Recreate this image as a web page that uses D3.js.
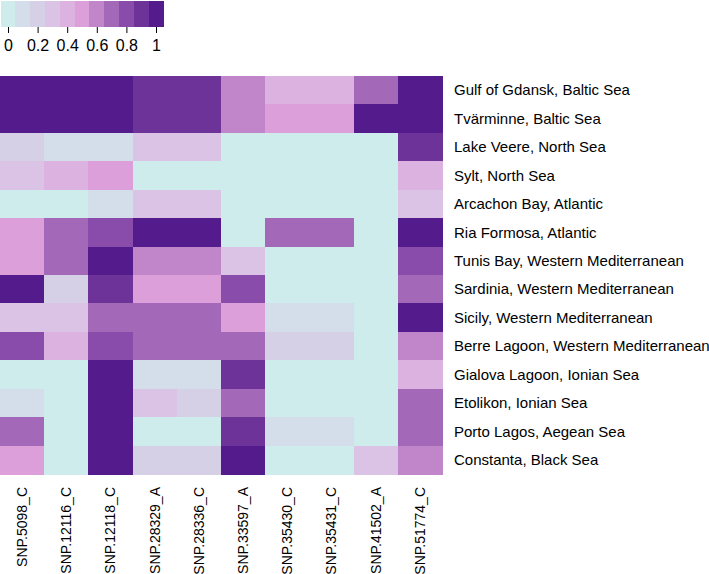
<!DOCTYPE html>
<html><head><meta charset="utf-8">
<script src="https://cdn.jsdelivr.net/npm/d3@7"></script>
<style>body{margin:0;background:#fff}svg{display:block}text{font-family:"Liberation Sans",Arial,sans-serif;fill:#000}</style>
</head><body><svg id="c" width="709" height="574"></svg>
<script>
const sites = ["Gulf of Gdansk, Baltic Sea","Tvärminne, Baltic Sea","Lake Veere, North Sea","Sylt, North Sea","Arcachon Bay, Atlantic","Ria Formosa, Atlantic","Tunis Bay, Western Mediterranean","Sardinia, Western Mediterranean","Sicily, Western Mediterranean","Berre Lagoon, Western Mediterranean","Gialova Lagoon, Ionian Sea","Etolikon, Ionian Sea","Porto Lagos, Aegean Sea","Constanta, Black Sea"];
const snps = ["SNP.5098_C","SNP.12116_C","SNP.12118_C","SNP.28329_A","SNP.28336_C","SNP.33597_A","SNP.35430_C","SNP.35431_C","SNP.41502_A","SNP.51774_C"];
const values = [
 [1.0,1.0,1.0,0.9,0.9,0.6,0.4,0.4,0.7,1.0],
 [1.0,1.0,1.0,0.9,0.9,0.6,0.5,0.5,1.0,1.0],
 [0.2,0.1,0.1,0.3,0.3,0.0,0.0,0.0,0.0,0.9],
 [0.3,0.4,0.5,0.0,0.0,0.0,0.0,0.0,0.0,0.4],
 [0.0,0.0,0.1,0.3,0.3,0.0,0.0,0.0,0.0,0.3],
 [0.5,0.7,0.8,1.0,1.0,0.0,0.7,0.7,0.0,1.0],
 [0.5,0.7,1.0,0.6,0.6,0.3,0.0,0.0,0.0,0.8],
 [1.0,0.2,0.9,0.5,0.5,0.8,0.0,0.0,0.0,0.7],
 [0.3,0.3,0.7,0.7,0.7,0.5,0.1,0.1,0.0,1.0],
 [0.8,0.4,0.8,0.7,0.7,0.7,0.2,0.2,0.0,0.6],
 [0.0,0.0,1.0,0.1,0.1,0.9,0.0,0.0,0.0,0.4],
 [0.1,0.0,1.0,0.3,0.2,0.7,0.0,0.0,0.0,0.7],
 [0.7,0.0,1.0,0.0,0.0,0.9,0.1,0.1,0.0,0.7],
 [0.5,0.0,1.0,0.2,0.2,1.0,0.0,0.0,0.3,0.6]
];
const levels = [0,0.1,0.2,0.3,0.4,0.5,0.6,0.7,0.8,0.9,1.0];
const palette = ["#cfeced","#d4deea","#d6d0e7","#dac3e4","#dcb2e0","#dd9fd9","#c185c9","#a468b9","#8a4cab","#6d3399","#541b8c"];
const legendTicks = [0,0.2,0.4,0.6,0.8,1];

const svg = d3.select("#c");
const x = d3.scaleBand().domain(snps).range([0,442]);
const y = d3.scaleBand().domain(sites).range([76,474]);
const color = d3.scaleQuantize().domain([-0.05,1.05]).range(palette);

const cells = [];
values.forEach((row,i)=>row.forEach((v,j)=>cells.push({s:sites[i],p:snps[j],v})));
svg.append("g").selectAll("rect").data(cells).join("rect")
  .attr("x",d=>x(d.p)).attr("y",d=>y(d.s))
  .attr("width",x.bandwidth()+0.5).attr("height",y.bandwidth()+0.5)
  .attr("fill",d=>color(d.v)).attr("shape-rendering","crispEdges");

// row labels
svg.append("g").selectAll("text").data(sites).join("text")
  .attr("x",454).attr("y",d=>y(d)+y.bandwidth()/2).attr("dy","0.35em")
  .attr("font-size",15).text(d=>d);

// column labels
svg.append("g").selectAll("text").data(snps).join("text")
  .attr("transform",d=>`translate(${x(d)+x.bandwidth()/2},487) rotate(-90)`)
  .attr("text-anchor","end").attr("dy","0.35em").attr("font-size",14).text(d=>d);

// legend
const lx = d3.scaleLinear().domain([0,1]).range([8,156]);
const lg = svg.append("g");
lg.selectAll("rect").data(levels).join("rect")
  .attr("x",d=>lx(d-0.05)).attr("y",1).attr("width",lx(0.1)-lx(0)+0.3).attr("height",26)
  .attr("fill",d=>color(d)).attr("shape-rendering","crispEdges");
const ax = lg.append("g").attr("transform","translate(0,27)")
  .call(d3.axisBottom(lx).tickValues(legendTicks).tickFormat(d3.format("~g")).tickSize(6).tickPadding(7));
ax.select(".domain").remove();
ax.selectAll("line").attr("stroke","#000");
ax.selectAll("text").attr("font-size",16).attr("font-family","'Liberation Sans',Arial,sans-serif");
</script></body></html>
